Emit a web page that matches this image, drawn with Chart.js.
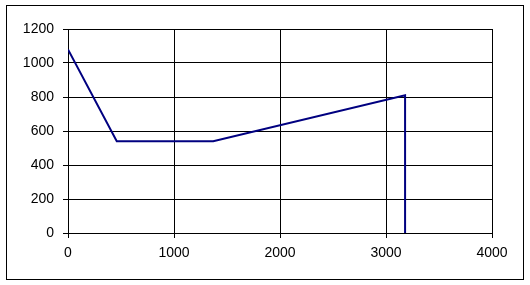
<!DOCTYPE html>
<html>
<head>
<meta charset="utf-8">
<style>
  html, body { margin: 0; padding: 0; background: #fff; }
  canvas { display: block; }
</style>
<script src="https://cdn.jsdelivr.net/npm/chart.js@4/dist/chart.umd.min.js"></script>
</head>
<body>
<canvas id="chart" width="530" height="285"></canvas>
<script>
// values
const xValues = [0, 460, 1370, 3180, 3180]
const yValues = [1080, 540, 540, 810, 0]
const xTicks = [0, 1000, 2000, 3000, 4000]
const yTicks = [0, 200, 400, 600, 800, 1000, 1200]

const points = xValues.map((x, i) => ({ x, y: yValues[i] }))

// outer frame around the whole chart
const frame = {
    id: 'frame',
    afterDraw(chart) {
        const ctx = chart.ctx
        ctx.save()
        ctx.strokeStyle = '#000'
        ctx.lineWidth = 1
        ctx.strokeRect(6.5, 5.5, 517, 274)
        ctx.restore()
    }
}

const font = { family: "'Liberation Sans', Arial, sans-serif", size: 14 }
const plain = v => String(v)

new Chart(document.getElementById('chart'), {
    type: 'scatter',
    data: {
        datasets: [{
            data: points,
            showLine: true,
            borderColor: '#000080',
            backgroundColor: '#000080',
            borderWidth: 2,
            pointRadius: 0,
            tension: 0
        }]
    },
    options: {
        responsive: false,
        animation: false,
        devicePixelRatio: 1,
        layout: { padding: { top: 29, left: 0, right: 38, bottom: 0 } },
        plugins: { legend: { display: false }, tooltip: { enabled: false } },
        scales: {
            x: {
                type: 'linear',
                min: xTicks[0],
                max: xTicks[xTicks.length - 1],
                afterBuildTicks: s => { s.ticks = xTicks.map(v => ({ value: v })) },
                afterFit: s => { s.height = 52 },
                grid: { color: '#000', lineWidth: 1, tickLength: 5, drawTicks: true },
                border: { color: '#000', width: 1 },
                ticks: { color: '#000', font, padding: 7, maxRotation: 0, callback: plain }
            },
            y: {
                min: yTicks[0],
                max: yTicks[yTicks.length - 1],
                afterBuildTicks: s => { s.ticks = yTicks.map(v => ({ value: v })) },
                afterFit: s => { s.width = 68 },
                grid: { color: '#000', lineWidth: 1, tickLength: 5, drawTicks: true },
                border: { color: '#000', width: 1 },
                ticks: { color: '#000', font, padding: 9, callback: plain }
            }
        }
    },
    plugins: [frame]
})
</script>
</body>
</html>
